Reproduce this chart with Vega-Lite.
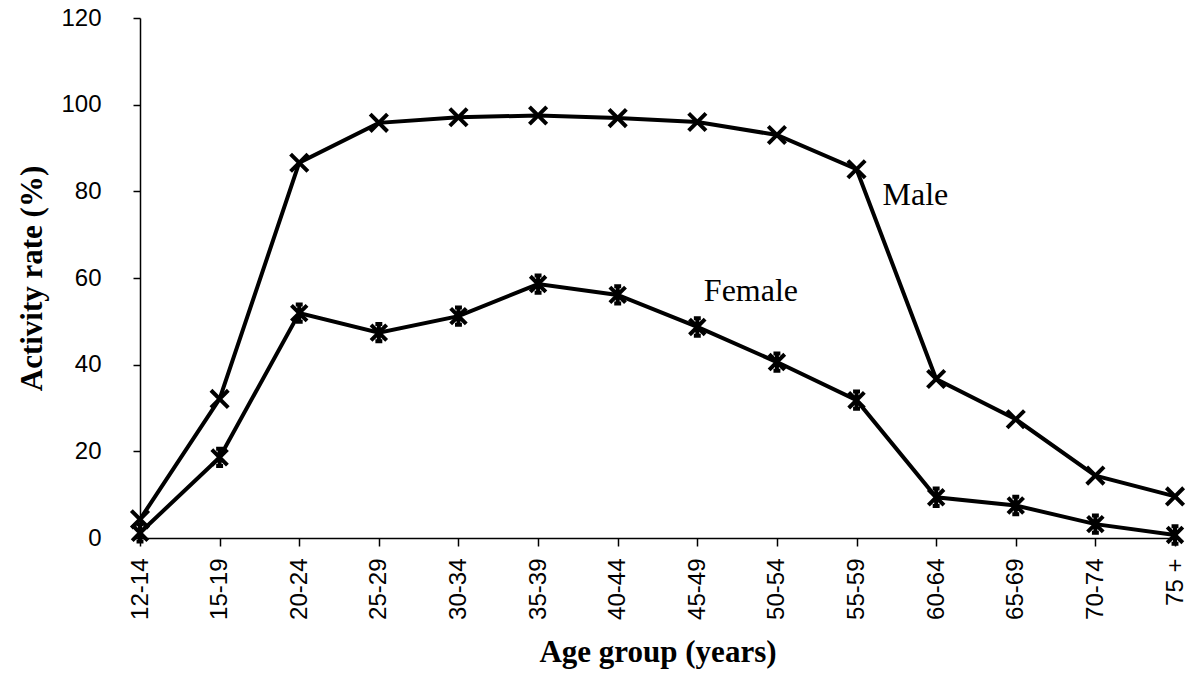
{
  "$schema": "https://vega.github.io/schema/vega-lite/v6.json",
  "autosize": "none",
  "width": 1035,
  "height": 520,
  "padding": {"left": 140, "top": 18, "right": 16, "bottom": 135},
  "background": "white",
  "config": {
    "view": {"stroke": null},
    "axis": {
      "domainColor": "black",
      "domainWidth": 1.5,
      "tickColor": "black",
      "tickWidth": 1.5,
      "labelColor": "black",
      "titleColor": "black",
      "grid": false
    }
  },
  "datasets": {
    "rates": [
      {"age": "12-14", "sex": "Male", "rate": 4.3},
      {"age": "15-19", "sex": "Male", "rate": 32.1},
      {"age": "20-24", "sex": "Male", "rate": 86.6},
      {"age": "25-29", "sex": "Male", "rate": 95.8},
      {"age": "30-34", "sex": "Male", "rate": 97.1},
      {"age": "35-39", "sex": "Male", "rate": 97.5},
      {"age": "40-44", "sex": "Male", "rate": 96.9},
      {"age": "45-49", "sex": "Male", "rate": 96.0},
      {"age": "50-54", "sex": "Male", "rate": 93.0},
      {"age": "55-59", "sex": "Male", "rate": 85.1},
      {"age": "60-64", "sex": "Male", "rate": 36.7},
      {"age": "65-69", "sex": "Male", "rate": 27.4},
      {"age": "70-74", "sex": "Male", "rate": 14.4},
      {"age": "75 +", "sex": "Male", "rate": 9.6},
      {"age": "12-14", "sex": "Female", "rate": 1.2},
      {"age": "15-19", "sex": "Female", "rate": 18.6},
      {"age": "20-24", "sex": "Female", "rate": 51.9},
      {"age": "25-29", "sex": "Female", "rate": 47.4},
      {"age": "30-34", "sex": "Female", "rate": 51.2},
      {"age": "35-39", "sex": "Female", "rate": 58.6},
      {"age": "40-44", "sex": "Female", "rate": 56.1},
      {"age": "45-49", "sex": "Female", "rate": 48.7},
      {"age": "50-54", "sex": "Female", "rate": 40.6},
      {"age": "55-59", "sex": "Female", "rate": 31.8},
      {"age": "60-64", "sex": "Female", "rate": 9.4},
      {"age": "65-69", "sex": "Female", "rate": 7.5},
      {"age": "70-74", "sex": "Female", "rate": 3.2},
      {"age": "75 +", "sex": "Female", "rate": 0.7}
    ]
  },
  "layer": [
    {
      "data": {"name": "rates"},
      "mark": {"type": "line", "color": "black", "strokeWidth": 4},
      "encoding": {
        "x": {
          "field": "age",
          "type": "ordinal",
          "sort": null,
          "scale": {"type": "point", "padding": 0},
          "axis": {
            "title": "Age group (years)",
            "titleFont": "Liberation Serif",
            "titleFontWeight": "bold",
            "titleFontSize": 31,
            "titlePadding": 18,
            "labelAngle": -90,
            "labelAlign": "right",
            "labelBaseline": "middle",
            "labelFont": "Liberation Sans",
            "labelFontSize": 24,
            "labelPadding": 12,
            "tickSize": 8
          }
        },
        "y": {
          "field": "rate",
          "type": "quantitative",
          "scale": {"domain": [0, 120]},
          "axis": {
            "title": "Activity rate (%)",
            "titleFont": "Liberation Serif",
            "titleFontWeight": "bold",
            "titleFontSize": 31,
            "titlePadding": 12,
            "values": [0, 20, 40, 60, 80, 100, 120],
            "labelFont": "Liberation Sans",
            "labelFontSize": 24,
            "labelPadding": 32,
            "tickSize": 7
          }
        },
        "detail": {"field": "sex", "type": "nominal"}
      }
    },
    {
      "data": {"name": "rates"},
      "mark": {"type": "point", "filled": false, "color": "black", "strokeWidth": 4, "opacity": 1},
      "encoding": {
        "x": {"field": "age", "type": "ordinal", "sort": null},
        "y": {"field": "rate", "type": "quantitative"},
        "shape": {
          "field": "sex",
          "type": "nominal",
          "scale": {
            "domain": ["Male", "Female"],
            "range": ["M-1,-1L1,1M-1,1L1,-1", "M-0.9,-0.9L0.9,0.9M-0.9,0.9L0.9,-0.9M0,-1L0,1M-0.4,-1L0.4,-1M-0.4,1L0.4,1"]
          },
          "legend": null
        },
        "size": {"value": 300}
      }
    },
    {
      "data": {"values": [{"name": "Male", "age": "55-59", "rate": 79.1}]},
      "mark": {"type": "text", "font": "Liberation Serif", "fontSize": 32, "align": "left", "baseline": "middle", "dx": 26, "color": "black"},
      "encoding": {
        "x": {"field": "age", "type": "ordinal", "sort": null},
        "y": {"field": "rate", "type": "quantitative"},
        "text": {"field": "name"}
      }
    },
    {
      "data": {"values": [{"name": "Female", "age": "50-54", "rate": 57.1}]},
      "mark": {"type": "text", "font": "Liberation Serif", "fontSize": 32, "align": "center", "baseline": "middle", "dx": -26, "color": "black"},
      "encoding": {
        "x": {"field": "age", "type": "ordinal", "sort": null},
        "y": {"field": "rate", "type": "quantitative"},
        "text": {"field": "name"}
      }
    }
  ]
}
